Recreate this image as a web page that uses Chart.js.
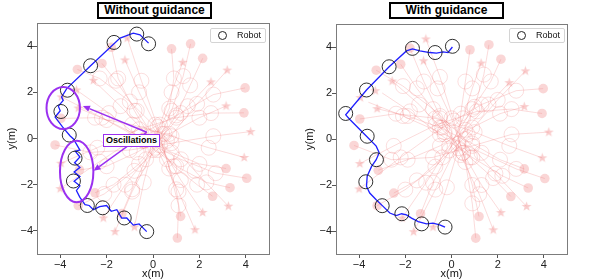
<!DOCTYPE html>
<html><head><meta charset="utf-8">
<script src="https://cdn.jsdelivr.net/npm/chart.js@4/dist/chart.umd.min.js"></script>
<style>
html,body{margin:0;padding:0;background:#fff;}
body{width:597px;height:279px;position:relative;overflow:hidden;font-family:"Liberation Sans",Arial,sans-serif;}
.pane{position:absolute;top:0;height:279px;}
.ttl{position:absolute;top:2px;height:17px;box-sizing:border-box;border:2px solid #000;font-weight:bold;font-size:12px;line-height:13px;text-align:center;background:#fff;color:#000;}
.leg{position:absolute;top:28px;height:15px;box-sizing:border-box;border:1px solid #d4d4d4;border-radius:2px;background:rgba(255,255,255,0.85);font-size:9px;line-height:13px;color:#111;}
.leg .mk{position:absolute;left:7px;top:2px;width:7px;height:7px;border:1px solid #222;border-radius:50%;}
.leg .tx{position:absolute;left:26px;top:0;}
.osc{position:absolute;left:103px;top:134px;width:57px;height:13px;box-sizing:border-box;border:1.5px solid #9b30f0;background:#fff;font-weight:bold;font-size:9px;line-height:10px;text-align:center;color:#000;}
</style>
</head><body>
<div class="pane" style="left:0;width:298px;"><canvas id="cL" width="298" height="279"></canvas></div>
<div class="pane" style="left:298px;width:299px;"><canvas id="cR" width="299" height="279"></canvas></div>
<div class="ttl" style="left:97px;width:115px;">Without guidance</div>
<div class="ttl" style="left:389px;width:115px;">With guidance</div>
<div class="leg" style="left:210px;width:56px;"><span class="mk"></span><span class="tx">Robot</span></div>
<div class="leg" style="left:509px;width:56px;"><span class="mk"></span><span class="tx">Robot</span></div>
<div class="osc">Oscillations</div>
<script>
// ---------- data ----------
const xTicks = [-4, -2, 0, 2, 4];
const yTicks = [-4, -2, 0, 2, 4];

// Without guidance: robot trajectory and robot circle snapshots
const robotPathL = [[-0.27,-4.03],[-0.6,-3.7],[-0.85,-3.75],[-1.13,-3.44],[-1.35,-3.45],[-1.56,-3.08],[-1.8,-3.15],[-2.0,-2.9],[-2.3,-2.95],[-2.57,-3.08],[-2.75,-2.9],[-2.93,-2.86],[-3.15,-2.55],[-3.3,-2.25],
  [-3.15,-2.05],[-3.4,-1.85],[-3.15,-1.65],[-3.4,-1.45],[-3.15,-1.25],[-3.38,-1.05],[-3.15,-0.8],[-3.35,-0.55],[-3.15,-0.5],[-3.43,-0.02],[-3.58,0.12],[-3.9,0.5],[-4.22,0.93],[-4.0,1.2],[-4.08,1.4],[-3.87,1.65],[-3.94,1.8],[-3.72,2.16],[-2.69,3.15],[-1.42,4.35],[-0.85,4.56],[-0.56,4.49],[-0.19,4.13]];
const robotCirclesL = [[-0.27,-4.03],[-1.24,-3.44],[-2.17,-3.0],[-2.83,-2.9],[-3.43,-1.84],[-3.36,-0.85],[-3.61,0.15],[-3.97,1.17],[-3.69,2.09],[-2.69,3.15],[-1.68,4.16],[-0.70,4.52],[-0.19,4.10]];

// With guidance
const robotPathR = [[-0.28,-3.83],[-0.51,-3.73],[-0.8,-3.66],[-1.08,-3.69],[-1.44,-3.59],[-1.73,-3.44],[-1.95,-3.3],[-2.16,-3.25],[-2.39,-3.33],[-2.67,-3.22],[-2.96,-2.93],[-3.26,-2.64],[-3.54,-2.35],[-3.68,-2.06],[-3.65,-1.62],[-3.46,-1.19],[-3.26,-0.9],[-3.13,-0.6],[-3.26,-0.31],[-3.83,0.27],[-4.4,0.85],[-4.58,1.05],[-3.68,2.13],[-2.70,3.14],[-1.95,3.83],[-1.69,3.92],[-1.37,3.83],[-0.94,3.76],[-0.65,3.73],[-0.36,3.79],[-0.15,3.76],[0.04,4.0]];
const robotCirclesR = [[-0.28,-3.83],[-1.29,-3.69],[-2.15,-3.25],[-3.0,-2.9],[-3.71,-1.86],[-3.25,-0.9],[-3.65,0.12],[-4.58,1.11],[-3.68,2.13],[-2.70,3.14],[-1.69,3.94],[-0.71,3.76],[0.04,4.03]];

// Pedestrians (start = filled disc, goal = star)
const pedStarts = [[0.8,3.88],[1.62,4.1],[2.14,3.47],[3.97,2.19],[3.92,1.11],[3.15,-1.3],[4.04,-1.72],[3.32,-2.13],[2.57,-2.5],[1.19,-3.37],[1.05,-4.31],[-4.22,-0.28],[-2.5,-2.35],[-3.22,-2.9],[-3.26,2.99],[-2.2,3.25],[-3.17,-1.36],[-1.34,-3.25],[-3.97,0.87],[-1.8,3.95]];
const pedGoals = [[-0.8,-3.83],[-1.64,-4.03],[-2.14,-3.44],[-4.0,-2.17],[-3.97,-1.07],[-3.22,1.32],[-3.95,1.8],[-3.3,2.1],[-2.57,2.52],[-1.21,3.4],[-1.11,4.35],[4.21,0.3],[2.5,2.45],[3.2,2.96],[3.25,-2.93],[2.14,-3.2],[3.15,1.41],[1.28,3.3],[3.93,-0.82],[1.81,-3.95]];

const pedTracksL = [
 [[0.8,3.88],[0.9,2.6],[0.7,1.3],[0.1,0.0],[-0.4,-1.9],[-0.8,-3.83]],
 [[1.62,4.1],[1.3,2.7],[0.8,1.2],[0.1,-0.4],[-0.9,-2.3],[-1.64,-4.03]],
 [[2.14,3.47],[1.6,2.3],[1.0,1.0],[0.0,-0.5],[-1.2,-2.0],[-2.14,-3.44]],
 [[3.97,2.19],[2.6,1.9],[1.2,1.1],[-0.5,0.2],[-2.3,-1.0],[-4.0,-2.17]],
 [[3.92,1.11],[2.5,1.1],[1.0,0.9],[-0.6,0.4],[-2.4,-0.4],[-3.97,-1.07]],
 [[3.15,-1.3],[2.0,-1.1],[0.8,-0.6],[-0.6,0.1],[-2.0,0.8],[-3.22,1.32]],
 [[4.04,-1.72],[2.7,-1.5],[1.2,-0.9],[-0.4,-0.1],[-2.2,0.9],[-3.95,1.8]],
 [[3.32,-2.13],[2.3,-1.9],[1.0,-1.2],[-0.4,-0.1],[-1.9,1.1],[-3.3,2.1]],
 [[2.57,-2.5],[1.9,-2.0],[0.9,-1.2],[-0.2,0.1],[-1.4,1.4],[-2.57,2.52]],
 [[1.19,-3.37],[1.0,-2.2],[0.6,-0.9],[0.1,0.6],[-0.6,2.0],[-1.21,3.4]],
 [[1.05,-4.31],[1.1,-2.9],[0.7,-1.3],[0.2,0.5],[-0.5,2.5],[-1.11,4.35]],
 [[-4.22,-0.28],[-2.7,-0.6],[-1.0,-0.5],[0.8,-0.2],[2.6,0.1],[4.21,0.3]],
 [[-2.5,-2.35],[-1.7,-2.0],[-0.6,-1.1],[0.5,0.2],[1.5,1.4],[2.5,2.45]],
 [[-3.22,-2.9],[-2.1,-2.4],[-0.8,-1.4],[0.6,-0.1],[1.9,1.5],[3.2,2.96]],
 [[-3.26,2.99],[-2.3,2.6],[-1.0,1.6],[0.4,0.2],[1.8,-1.4],[3.25,-2.93]],
 [[-2.2,3.25],[-1.6,2.5],[-0.7,1.2],[0.3,-0.3],[1.2,-1.8],[2.14,-3.2]],
 [[-3.17,-1.36],[-2.0,-1.2],[-0.7,-0.6],[0.7,0.2],[2.0,0.9],[3.15,1.41]],
 [[-1.34,-3.25],[-0.9,-2.2],[-0.3,-0.9],[0.3,0.6],[0.8,2.0],[1.28,3.3]],
 [[-3.97,0.87],[-2.5,0.9],[-0.9,0.6],[0.8,0.1],[2.4,-0.4],[3.93,-0.82]],
 [[-1.8,3.95],[-1.5,2.6],[-0.8,1.2],[0.2,-0.5],[1.1,-2.3],[1.81,-3.95]]
];
const pedTracksR = [
 [[0.8,3.88],[0.6,2.5],[0.4,1.1],[0.3,-0.4],[-0.2,-2.1],[-0.8,-3.83]],
 [[1.62,4.1],[1.4,2.8],[1.0,1.4],[0.3,-0.2],[-0.7,-2.2],[-1.64,-4.03]],
 [[2.14,3.47],[1.7,2.5],[0.9,1.3],[-0.1,-0.3],[-1.1,-1.9],[-2.14,-3.44]],
 [[3.97,2.19],[2.8,2.1],[1.3,1.5],[-0.4,0.5],[-2.2,-0.8],[-4.0,-2.17]],
 [[3.92,1.11],[2.6,1.3],[1.1,1.2],[-0.7,0.6],[-2.5,-0.3],[-3.97,-1.07]],
 [[3.15,-1.3],[2.1,-0.9],[0.9,-0.2],[-0.5,0.5],[-1.9,1.0],[-3.22,1.32]],
 [[4.04,-1.72],[2.8,-1.3],[1.3,-0.6],[-0.3,0.2],[-2.1,1.0],[-3.6,1.6]],
 [[3.32,-2.13],[2.2,-1.6],[0.9,-0.8],[-0.5,0.2],[-1.8,1.2],[-3.0,2.0]],
 [[2.57,-2.5],[1.8,-1.7],[0.8,-0.8],[-0.3,0.3],[-1.4,1.5],[-2.57,2.52]],
 [[1.19,-3.37],[0.9,-2.0],[0.5,-0.6],[0.0,0.9],[-0.6,2.2],[-1.21,3.4]],
 [[1.05,-4.31],[0.9,-2.8],[0.6,-1.0],[0.1,0.8],[-0.5,2.7],[-1.11,4.35]],
 [[-4.22,-0.28],[-2.6,-0.9],[-0.8,-0.8],[0.9,-0.3],[2.6,0.2],[4.21,0.3]],
 [[-2.5,-2.35],[-1.5,-1.8],[-0.4,-0.8],[0.6,0.4],[1.6,1.5],[2.5,2.45]],
 [[-3.22,-2.9],[-2.0,-2.2],[-0.7,-1.2],[0.7,0.2],[2.0,1.7],[3.2,2.96]],
 [[-3.26,2.99],[-2.1,2.3],[-0.8,1.3],[0.6,0.0],[1.9,-1.5],[3.25,-2.93]],
 [[-2.2,3.25],[-1.5,2.2],[-0.5,0.9],[0.5,-0.6],[1.3,-2.0],[2.14,-3.2]],
 [[-3.17,-1.36],[-1.9,-0.9],[-0.5,-0.3],[0.9,0.5],[2.1,1.1],[3.15,1.41]],
 [[-1.34,-3.25],[-0.8,-1.9],[-0.1,-0.5],[0.5,0.9],[0.9,2.2],[1.28,3.3]],
 [[-3.97,0.87],[-2.4,1.1],[-0.7,0.9],[1.0,0.3],[2.5,-0.3],[3.93,-0.82]],
 [[-1.8,3.95],[-1.2,2.5],[-0.5,1.0],[0.4,-0.7],[1.2,-2.4],[1.81,-3.95]]
];

// annotation geometry (data units) for the left panel
const oscEllipses = [{cx:-3.87, cy:1.32, rx:0.72, ry:0.91}, {cx:-3.29, cy:-1.43, rx:0.72, ry:1.33}];
const oscArrowTail = [-0.27, 0.27];
const oscArrowHeads = [[-3.02, 1.41], [-2.56, -1.40]];

// ---------- rendering ----------
const PED = 'rgba(240,128,128,';
const toXY = a => a.map(p => ({x: p[0], y: p[1]}));
const fmt = v => (v < 0 ? '\u2212' + Math.abs(v) : String(v));

const starImg = (() => {
  const c = document.createElement('canvas'); c.width = 11; c.height = 11;
  const g = c.getContext('2d'); g.fillStyle = PED + '0.4)'; g.beginPath();
  for (let i = 0; i < 10; i++) {
    const r = i % 2 ? 2.1 : 5.2, a = -Math.PI / 2 + i * Math.PI / 5;
    g.lineTo(5.5 + r * Math.cos(a), 5.6 + r * Math.sin(a));
  }
  g.closePath(); g.fill(); return c;
})();

const framePlugin = {
  id: 'frame',
  afterDraw(chart) {
    const a = chart.chartArea, ctx = chart.ctx;
    ctx.save(); ctx.strokeStyle = '#7c7c7c'; ctx.lineWidth = 1;
    ctx.strokeRect(Math.round(a.left) + 0.5, Math.round(a.top) + 0.5, Math.round(a.right - a.left), Math.round(a.bottom - a.top));
    ctx.restore();
  }
};

const oscPlugin = {
  id: 'osc',
  afterDatasetsDraw(chart) {
    const xs = chart.scales.x, ys = chart.scales.y, ctx = chart.ctx;
    ctx.save(); ctx.strokeStyle = '#9b30f0'; ctx.fillStyle = '#9b30f0'; ctx.lineWidth = 2;
    oscEllipses.forEach(e => {
      const cx = xs.getPixelForValue(e.cx), cy = ys.getPixelForValue(e.cy);
      const rx = Math.abs(xs.getPixelForValue(e.cx + e.rx) - cx), ry = Math.abs(ys.getPixelForValue(e.cy + e.ry) - cy);
      ctx.beginPath(); ctx.ellipse(cx, cy, rx, ry, 0, 0, Math.PI * 2); ctx.stroke();
    });
    ctx.lineWidth = 1.5;
    const tx = xs.getPixelForValue(oscArrowTail[0]), ty = ys.getPixelForValue(oscArrowTail[1]);
    oscArrowHeads.forEach(h => {
      const hx = xs.getPixelForValue(h[0]), hy = ys.getPixelForValue(h[1]);
      const ang = Math.atan2(hy - ty, hx - tx), L = 7, W = 3.2;
      const bx = hx - L * Math.cos(ang), by = hy - L * Math.sin(ang);
      ctx.beginPath(); ctx.moveTo(tx, ty); ctx.lineTo(bx, by); ctx.stroke();
      ctx.beginPath(); ctx.moveTo(hx, hy);
      ctx.lineTo(bx + W * Math.sin(ang), by - W * Math.cos(ang));
      ctx.lineTo(bx - W * Math.sin(ang), by + W * Math.cos(ang));
      ctx.closePath(); ctx.fill();
    });
    ctx.restore();
  }
};

function axis(ticks, label, isX, size) {
  return {
    type: 'linear', min: -5, max: 5,
    afterBuildTicks: s => { s.ticks = ticks.map(v => ({value: v})); },
    afterFit: s => { if (isX) s.height = size; else s.width = size; },
    ticks: { callback: v => fmt(v), font: {family: 'Liberation Sans', size: 11}, color: '#222', padding: 0, maxRotation: 0, autoSkip: false },
    grid: { drawOnChartArea: false, drawTicks: true, tickLength: 4, color: '#555' },
    border: { display: false },
    title: { display: true, text: label, font: {family: 'Liberation Sans', size: 11}, color: '#111', padding: isX ? {top: 0, bottom: -1.5} : {top: 5, bottom: 0} }
  };
}

function makeChart(id, path, circles, tracks, pad, yW, plugins) {
  const ds = [];
  ds.push({ data: toXY(circles), showLine: false, pointRadius: 7, pointHoverRadius: 7, pointBorderWidth: 1,
            pointBorderColor: 'rgba(25,25,25,0.9)', pointBackgroundColor: 'rgba(0,0,0,0)' });
  ds.push({ data: toXY(path), showLine: true, borderColor: '#1f1fff', borderWidth: 1.3, pointRadius: 0, tension: 0 });
  ds.push({ data: toXY(pedStarts), showLine: false, pointRadius: 4.8, pointBorderWidth: 0, pointBackgroundColor: PED + '0.32)' });
  ds.push({ data: toXY(pedGoals), showLine: false, pointStyle: starImg, pointRadius: 5 });
  tracks.forEach(t => ds.push({ data: toXY(t), showLine: true, borderColor: PED + '0.36)', borderWidth: 0.8,
      pointRadius: c => (c.dataIndex === 0 || c.dataIndex === t.length - 1 ? 0 : 7.5), pointBorderWidth: 1, pointBorderColor: PED + '0.26)', pointBackgroundColor: 'rgba(0,0,0,0)' }));
  return new Chart(document.getElementById(id), {
    type: 'scatter',
    data: { datasets: ds },
    options: {
      responsive: false, animation: false, devicePixelRatio: 1,
      layout: { padding: pad },
      plugins: { legend: { display: false }, tooltip: { enabled: false } },
      scales: { x: axis(xTicks, 'x(m)', true, 25), y: axis(yTicks, 'y(m)', false, yW) }
    },
    plugins: plugins
  });
}

makeChart('cL', robotPathL, robotCirclesL, pedTracksL, {left: 0, right: 29, top: 23, bottom: 0}, 37, [framePlugin, oscPlugin]);
makeChart('cR', robotPathR, robotCirclesR, pedTracksR, {left: 0, right: 30, top: 24, bottom: 0}, 38, [framePlugin]);
</script>
</body></html>
